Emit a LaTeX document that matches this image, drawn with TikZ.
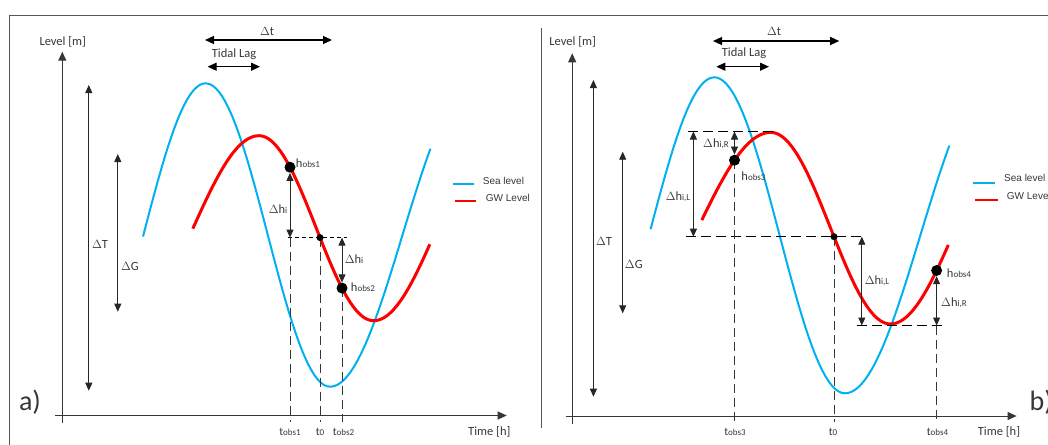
\documentclass[tikz,border=0pt]{standalone}
\usepackage{fontspec}
\setmainfont{Carlito}
\newfontfamily\legendfont{Liberation Sans}
\usetikzlibrary{arrows.meta}
\definecolor{seablue}{RGB}{0,176,240}
\definecolor{gwred}{RGB}{255,0,0}
\definecolor{inkgray}{RGB}{55,55,55}
\definecolor{framegray}{RGB}{85,85,85}
\newcommand{\lsub}[1]{{\fontsize{9}{9}\selectfont #1}}

\begin{document}
\begin{tikzpicture}[x=1pt,y=-1pt,font=\fontsize{12.5}{14}\selectfont,text=inkgray,
    sealine/.style={seablue,line width=2pt},
    gwline/.style={gwred,line width=3pt},
    axisline/.style={inkgray,line width=1pt,-{Triangle[length=9pt,width=8pt]}},
    dimarrow/.style={black!85,line width=0.9pt,{Triangle[length=8pt,width=7pt]}-{Triangle[length=8pt,width=7pt]}},
    lagarrow/.style={black,line width=1.2pt,{Triangle[length=9pt,width=8pt]}-{Triangle[length=9pt,width=8pt]}},
    guide/.style={inkgray,line width=0.8pt,dash pattern=on 9pt off 5pt},
    levelguide/.style={black,line width=1.1pt,dash pattern=on 10pt off 5pt},
    shortguide/.style={black,line width=1.1pt,dash pattern=on 4pt off 3pt},
    bigdot/.style={circle,fill=black,inner sep=0pt,minimum size=11pt},
    smalldot/.style={circle,fill=black,inner sep=0pt,minimum size=7pt},
    ticklabel/.style={font=\fontsize{11.5}{12}\selectfont},
    legendtext/.style={font=\legendfont\fontsize{10}{12}\selectfont,anchor=west,inner xsep=0pt}]
  \useasboundingbox (0,0) rectangle (1048,444);

  % frame
  \draw[framegray,line width=1.2pt] (9.6,450) -- (9.6,15.7) -- (1055,15.7);
  \draw[framegray,line width=1pt] (541,28) -- (541,428);

  % ---------- panel a ----------
  \coordinate (ayb) at (62.3,423);
  \coordinate (ayt) at (62.3,51.7);
  \coordinate (axl) at (55,415.5);
  \coordinate (axr) at (506.7,415.5);
  \draw[axisline] (ayb) -- (ayt);
  \draw[axisline] (axl) -- (axr);
  \node (alevel) at (62.8,42) {Level [m]};
  \node (atime) at (489.3,431.7) {Time [h]};
  \node[font=\fontsize{28}{30}\selectfont] (alabel) at (30,401.7) {a)};

  % time spans
  \coordinate (adtl) at (205,40);
  \coordinate (adtr) at (332,40);
  \draw[lagarrow] (adtl) -- (adtr);
  \node (adt) at (267,31) {$\Delta$t};
  \coordinate (alagl) at (207.6,66.7);
  \coordinate (alagr) at (260,66.7);
  \draw[lagarrow] (alagl) -- (alagr);
  \node (alag) at (234,54) {Tidal Lag};

  % ranges
  \coordinate (aTt) at (88.8,85);
  \coordinate (aTb) at (88.8,390.7);
  \draw[dimarrow] (aTt) -- (aTb);
  \node (aT) at (100,244) {$\Delta$T};
  \coordinate (aGt) at (117.8,154);
  \coordinate (aGb) at (117.8,311.7);
  \draw[dimarrow] (aGt) -- (aGb);
  \node (aG) at (130,266.7) {$\Delta$G};

  % curves
  \draw[sealine] plot[domain=143:330,samples=60] (\x,{235-151.7*cos((\x-205.6)/124.4*180)})
    -- plot[domain=330:430.4,samples=40] (\x,{235+151.7*cos((\x-330)/145*180)});
  \draw[gwline,line join=round] plot[domain=192.8:259,samples=30] (\x,{228.2-92.5*cos((\x-259)/132*180)})
    -- plot[domain=259:373.6,samples=50] (\x,{228.2-92.5*cos((\x-259)/114.6*180)})
    -- plot[domain=373.6:429.8,samples=30] (\x,{228.2+92.5*cos((\x-373.6)/126.5*180)});

  % guides
  \coordinate (ah1) at (290,167.2);
  \coordinate (at0) at (320,237.6);
  \coordinate (ah2) at (342,288.1);
  \coordinate (ahl) at (287.5,237.6);
  \coordinate (ahr) at (347,237.6);
  \coordinate (am1) at (290,237.6);
  \coordinate (am2) at (342,237.6);
  \coordinate (ab1) at (290,421.7);
  \coordinate (ab0) at (320,421.7);
  \coordinate (ab2) at (342,421.7);
  \draw[guide] (am1) -- (ab1);
  \draw[guide] (at0) -- (ab0);
  \draw[guide] (ah2) -- (ab2);
  \draw[shortguide] (ahl) -- (ahr);

  \node[bigdot] (hobs1) at (ah1) {};
  \node[smalldot] (ta0) at (at0) {};
  \node[bigdot] (hobs2) at (ah2) {};
  \draw[dimarrow] (hobs1) -- (am1);
  \draw[dimarrow] (am2) -- (hobs2);
  \node (adh1) at (278,209) {$\Delta$h\lsub{i}};
  \node (adh2) at (354,259) {$\Delta$h\lsub{i}};
  \node (ah1lab) at (308,163) {h\lsub{obs1}};
  \node (ah2lab) at (363,286.7) {h\lsub{obs2}};

  \node[ticklabel] (atobs1) at (290,432) {t\lsub{obs1}};
  \node[ticklabel] (at0lab) at (320,432) {t\lsub{0}};
  \node[ticklabel] (atobs2) at (343.5,432) {t\lsub{obs2}};

  % legend
  \draw[sealine] (452.7,184) -- (474,184);
  \draw[gwred,line width=2pt] (455,201) -- (476,201);
  \node[legendtext] (asea) at (482.7,181) {Sea level};
  \node[legendtext] (agw) at (485.7,197.7) {GW Level};

  % ---------- panel b ----------
  \coordinate (byb) at (572.2,424);
  \coordinate (byt) at (572.2,53.3);
  \coordinate (bxl) at (565.5,416);
  \coordinate (bxr) at (1016.6,416);
  \draw[axisline] (byb) -- (byt);
  \draw[axisline] (bxl) -- (bxr);
  \node (blevel) at (572.7,42.3) {Level [m]};
  \node (btime) at (999,432.3) {Time [h]};
  \node[font=\fontsize{28}{30}\selectfont,anchor=west] (blabel) at (1026,401.7) {b)};

  \coordinate (bdtl) at (713,41);
  \coordinate (bdtr) at (839.2,41);
  \draw[lagarrow] (bdtl) -- (bdtr);
  \node (bdt) at (774,31.7) {$\Delta$t};
  \coordinate (blagl) at (716.3,66.7);
  \coordinate (blagr) at (769,66.7);
  \draw[lagarrow] (blagl) -- (blagr);
  \node (blag) at (744,53.3) {Tidal Lag};

  \coordinate (bTt) at (593.4,80);
  \coordinate (bTb) at (593.4,396.7);
  \draw[dimarrow] (bTt) -- (bTb);
  \node (bT) at (604,241.7) {$\Delta$T};
  \coordinate (bGt) at (622.7,151.7);
  \coordinate (bGb) at (622.7,313.3);
  \draw[dimarrow] (bGt) -- (bGb);
  \node (bG) at (633.8,264) {$\Delta$G};

  \draw[sealine] plot[domain=650.6:844.9,samples=60] (\x,{235.3-158*cos((\x-714.3)/130.6*180)})
    -- plot[domain=844.9:949.3,samples=40] (\x,{235.3+158*cos((\x-844.9)/150.9*180)});
  \draw[gwline,line join=round] plot[domain=701.8:770.8,samples=30] (\x,{228.2-95.8*cos((\x-770.8)/145.9*180)})
    -- plot[domain=770.8:890.4,samples=50] (\x,{228.2-95.8*cos((\x-770.8)/119.6*180)})
    -- plot[domain=890.4:948.3,samples=30] (\x,{228.2+95.8*cos((\x-890.4)/130.4*180)});

  % level lines
  \coordinate (btopl) at (688.4,131.5);
  \coordinate (btopr) at (775,131.5);
  \coordinate (bmidl) at (686,236.7);
  \coordinate (bmidr) at (865,236.7);
  \coordinate (bbotl) at (856.7,325.5);
  \coordinate (bbotr) at (943.6,325.5);
  \draw[levelguide] (btopl) -- (btopr);
  \draw[levelguide] (bmidl) -- (bmidr);
  \draw[levelguide] (bbotl) -- (bbotr);

  \coordinate (bh3) at (734.5,160.2);
  \coordinate (bt0) at (834,236.7);
  \coordinate (bh4) at (936.6,270.5);
  \coordinate (bb3) at (734.5,421.7);
  \coordinate (bb0) at (834,421.7);
  \coordinate (bb4) at (936.6,421.7);
  \coordinate (bl4) at (936.6,325.5);
  \draw[guide] (bh3) -- (bb3);
  \draw[guide] (bt0) -- (bb0);
  \draw[guide] (bl4) -- (bb4);

  \node[bigdot] (hobs3) at (bh3) {};
  \node[smalldot] (tb0) at (bt0) {};
  \node[bigdot] (hobs4) at (bh4) {};

  \coordinate (bLt) at (693.4,131.5);
  \coordinate (bLb) at (693.4,236.7);
  \coordinate (bRt) at (734.5,131.5);
  \coordinate (bL2t) at (861.8,236.7);
  \coordinate (bL2b) at (861.8,325.5);
  \coordinate (bR2b) at (936.6,325.5);
  \draw[dimarrow] (bLt) -- (bLb);
  \draw[dimarrow] (bRt) -- (hobs3);
  \draw[dimarrow] (bL2t) -- (bL2b);
  \draw[dimarrow] (hobs4) -- (bR2b);
  \node (bdhL) at (678,196.7) {$\Delta$h\lsub{i,L}};
  \node (bdhR) at (716,144) {$\Delta$h\lsub{i,R}};
  \node (bdhL2) at (877,280.7) {$\Delta$h\lsub{i,L}};
  \node (bdhR2) at (954,302.7) {$\Delta$h\lsub{i,R}};
  \node (bh3lab) at (753.5,175.7) {h\lsub{obs3}};
  \node (bh4lab) at (959,272.7) {h\lsub{obs4}};

  \node[ticklabel] (btobs3) at (735,432.3) {t\lsub{obs3}};
  \node[ticklabel] (bt0lab) at (833,432.3) {t\lsub{0}};
  \node[ticklabel] (btobs4) at (937.5,432.3) {t\lsub{obs4}};

  \draw[sealine] (972.7,182.7) -- (995,182.7);
  \draw[gwred,line width=2pt] (975,200) -- (998.3,200);
  \node[legendtext] (bsea) at (1004,178.3) {Sea level};
  \node[legendtext] (bgw) at (1006.7,195.7) {GW Level};
\end{tikzpicture}
\end{document}
